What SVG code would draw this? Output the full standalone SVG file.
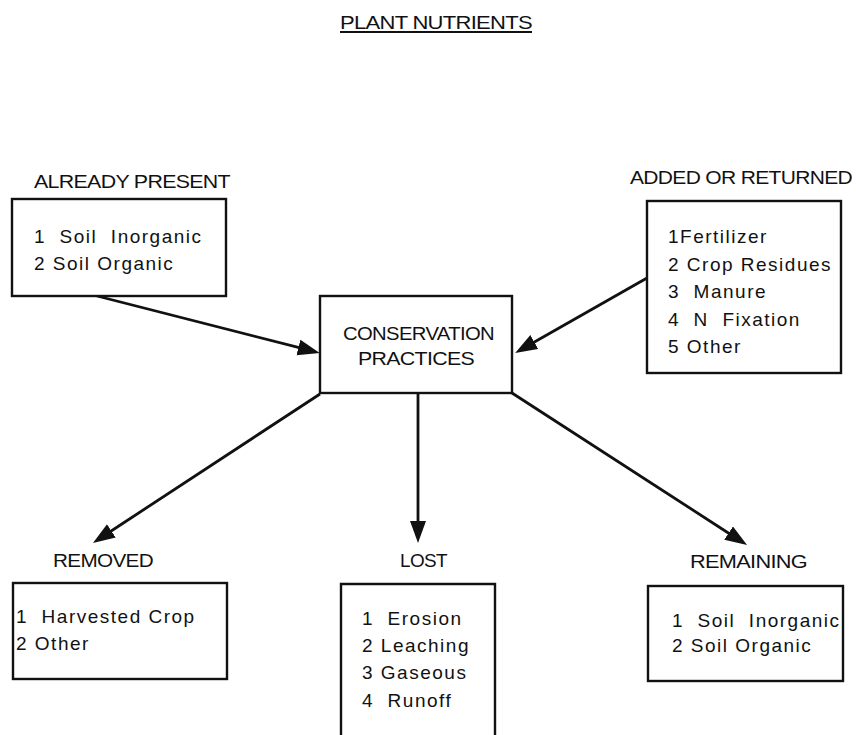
<svg xmlns="http://www.w3.org/2000/svg" width="856" height="735" viewBox="0 0 856 735">
<style>
.box{fill:#fff;stroke:#111;stroke-width:2.4}
.lbl{font-family:"Liberation Sans",Arial,sans-serif;font-size:19px;fill:#111;letter-spacing:-0.6px}
.item{font-family:"Liberation Sans",Arial,sans-serif;font-size:19px;fill:#111;letter-spacing:1.5px;white-space:pre}
.conn{stroke:#111;stroke-width:2.8;fill:none;marker-end:url(#ah)}
</style>
<defs>
<marker id="ah" markerUnits="userSpaceOnUse" markerWidth="24" markerHeight="18" refX="13" refY="8" orient="auto" viewBox="0 0 24 18">
<path d="M0,0 L22,8 L0,16 z" fill="#111"/>
</marker>
</defs>
<rect width="856" height="735" fill="#fff"/>
<g id="title">
<text class="lbl" x="340" y="29" textLength="192" lengthAdjust="spacingAndGlyphs">PLANT NUTRIENTS</text>
<line x1="340" y1="32" x2="532" y2="32" stroke="#111" stroke-width="2"/>
</g>
<g id="connectors">
<line class="conn" x1="97" y1="296" x2="311" y2="350.7"/>
<line class="conn" x1="647" y1="278" x2="523" y2="348.5"/>
<line class="conn" x1="320" y1="394" x2="100.5" y2="538"/>
<line class="conn" x1="418" y1="393" x2="418" y2="534"/>
<line class="conn" x1="512" y1="393" x2="739.5" y2="540.2"/>
</g>
<g id="already-present">
<text class="lbl" x="34" y="188" textLength="196" lengthAdjust="spacingAndGlyphs">ALREADY PRESENT</text>
<rect class="box" x="12" y="199" width="214" height="97"/>
<text class="item" x="34" y="243" xml:space="preserve">1  Soil  Inorganic</text>
<text class="item" x="34" y="270">2 Soil Organic</text>
</g>
<g id="added-or-returned">
<text class="lbl" x="630" y="184" textLength="222" lengthAdjust="spacingAndGlyphs">ADDED OR RETURNED</text>
<rect class="box" x="647" y="201" width="194" height="172"/>
<text class="item" x="668" y="243">1Fertilizer</text>
<text class="item" x="668" y="271">2 Crop Residues</text>
<text class="item" x="668" y="298" xml:space="preserve">3  Manure</text>
<text class="item" x="668" y="326" xml:space="preserve">4  N  Fixation</text>
<text class="item" x="668" y="353">5 Other</text>
</g>
<g id="conservation-practices">
<rect class="box" x="320" y="296" width="192" height="97"/>
<text class="lbl" x="343" y="340" textLength="151" lengthAdjust="spacingAndGlyphs">CONSERVATION</text>
<text class="lbl" x="358" y="365" textLength="116" lengthAdjust="spacingAndGlyphs">PRACTICES</text>
</g>
<g id="removed">
<text class="lbl" x="53" y="567" textLength="100" lengthAdjust="spacingAndGlyphs">REMOVED</text>
<rect class="box" x="13" y="583" width="214" height="96"/>
<text class="item" x="16" y="623" xml:space="preserve">1  Harvested Crop</text>
<text class="item" x="16" y="650">2 Other</text>
</g>
<g id="lost">
<text class="lbl" x="400" y="567" textLength="47" lengthAdjust="spacingAndGlyphs">LOST</text>
<path class="box" d="M341,740 L341,584 L495,584 L495,740"/>
<text class="item" x="362" y="625" xml:space="preserve">1  Erosion</text>
<text class="item" x="362" y="652">2 Leaching</text>
<text class="item" x="362" y="679">3 Gaseous</text>
<text class="item" x="362" y="707" xml:space="preserve">4  Runoff</text>
</g>
<g id="remaining">
<text class="lbl" x="690" y="568" textLength="117" lengthAdjust="spacingAndGlyphs">REMAINING</text>
<rect class="box" x="648" y="586" width="195" height="95"/>
<text class="item" x="672" y="627" xml:space="preserve">1  Soil  Inorganic</text>
<text class="item" x="672" y="652">2 Soil Organic</text>
</g>
</svg>
